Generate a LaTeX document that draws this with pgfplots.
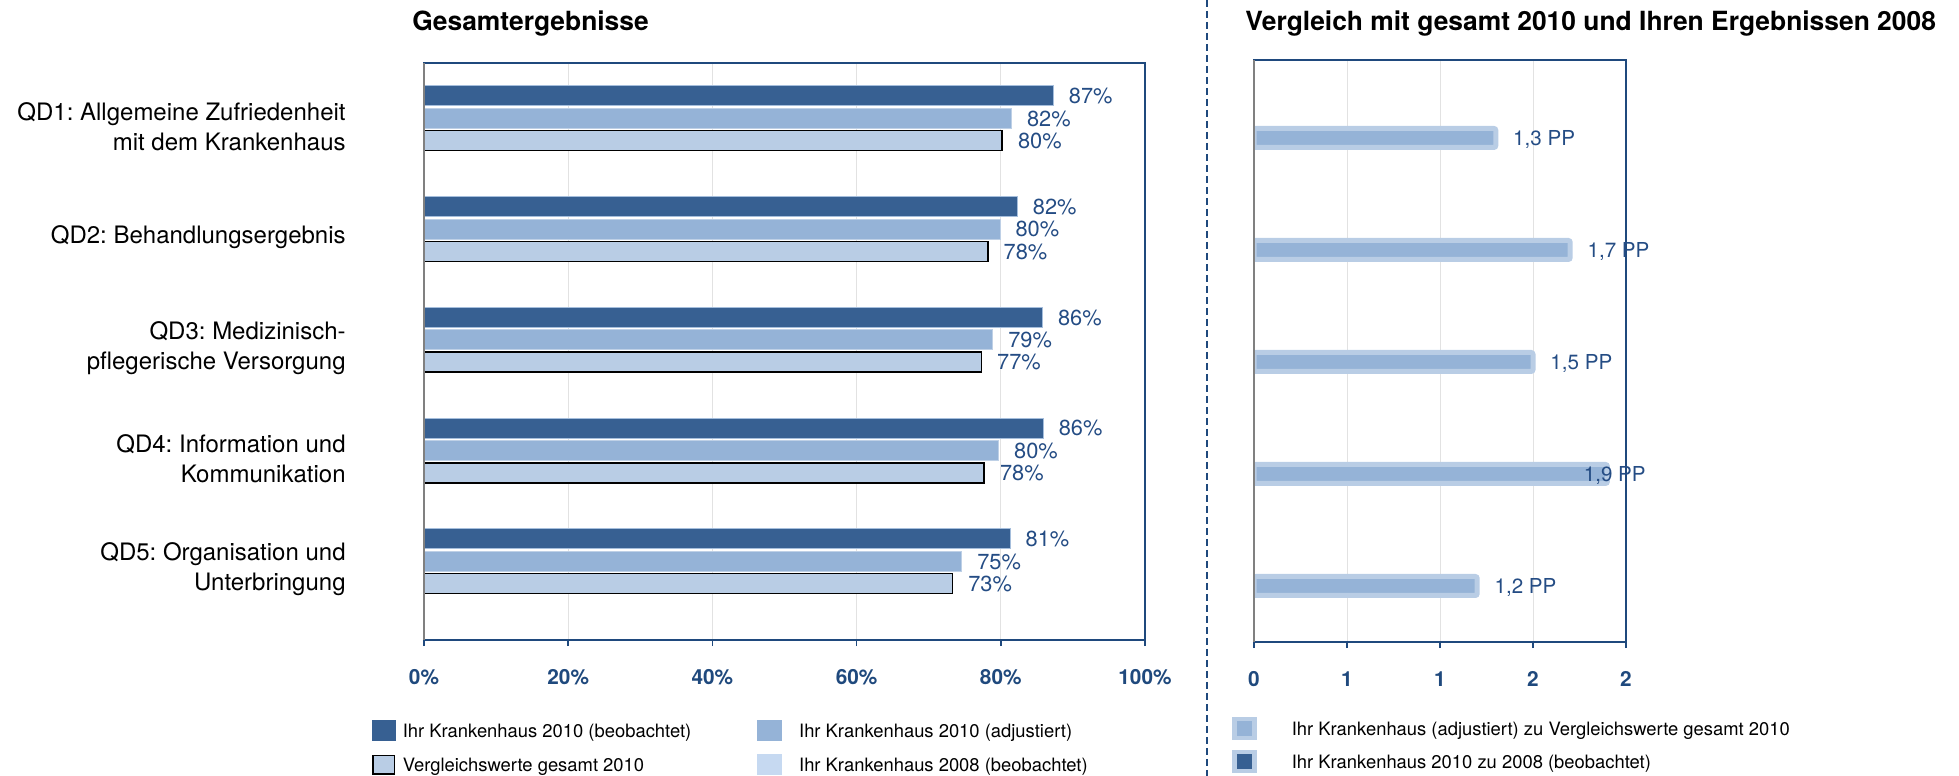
\documentclass[border=0pt]{standalone}
\usepackage{pgfplots}
\pgfplotsset{compat=1.18}
\usepackage{pgfplotstable}
\usepackage{fontspec}
\setmainfont{TeX Gyre Heros}
\frenchspacing
\definecolor{darkbar}{RGB}{55,96,146}
\definecolor{darkedge}{RGB}{165,190,220}
\definecolor{midbar}{RGB}{149,179,215}
\definecolor{midedge}{RGB}{190,208,230}
\definecolor{lightbar}{RGB}{185,205,229}
\definecolor{palebar}{RGB}{198,217,241}
\definecolor{axisblue}{RGB}{31,73,125}
\definecolor{labelblue}{RGB}{36,76,132}
\definecolor{gridgray}{RGB}{226,226,226}
\definecolor{spinegray}{RGB}{128,128,128}

\pgfplotstableread{
y dark dl mid ml light ll
4 87.3 87 81.5 82 80.2 80
3 82.3 82 79.9 80 78.2 78
2 85.8 86 78.9 79 77.3 77
1 85.9 86 79.7 80 77.7 78
0 81.3 81 74.6 75 73.3 73
}\lefttab

\pgfplotstableread{
y v lx lbl
4 1.3 1.3 1,3
3 1.7 1.7 1,7
2 1.5 1.5 1,5
1 1.9 1.68 1,9
0 1.2 1.2 1,2
}\righttab

\begin{document}
\begin{tikzpicture}
\path[use as bounding box] (0,0) rectangle (979.5pt,388pt);
\draw[axisblue, line width=1pt, dash pattern=on 3.5pt off 2pt] (603.5pt,388pt) -- (603.5pt,0pt);
\node[anchor=base west, font=\fontsize{13.2}{16}\selectfont\bfseries, inner sep=0pt] at (206pt,372.5pt) {Gesamtergebnisse};
\node[anchor=base west, font=\fontsize{13.2}{16}\selectfont\bfseries, inner sep=0pt] at (622.5pt,372.5pt) {Vergleich mit gesamt 2010 und Ihren Ergebnissen 2008};

% ---------------- left axis ----------------
\begin{axis}[
  at={(212pt,68pt)}, anchor=south west,
  scale only axis, width=360.5pt, height=288.5pt,
  xmin=0, xmax=100, ymin=-0.61, ymax=4.60,
  axis line style={axisblue, line width=1pt},
  xtick={0,20,40,60,80,100},
  xticklabels={0\%,20\%,40\%,60\%,80\%,100\%},
  xtick pos=lower, ytick pos=left,
  tick align=outside, major tick length=3pt,
  x tick style={axisblue, line width=0.8pt},
  y tick style={draw=none},
  ytick={0,1,2,3,4},
  yticklabels={{QD5: Organisation und\\Unterbringung},{QD4: Information und\\Kommunikation},{QD3: Medizinisch-\\pflegerische Versorgung},{QD2: Behandlungsergebnis},{QD1: Allgemeine Zufriedenheit\\mit dem Krankenhaus}},
  xmajorgrids, major grid style={gridgray, line width=0.5pt},
  xticklabel style={font=\fontsize{10.4}{12}\selectfont\bfseries, text=axisblue, inner sep=0pt, anchor=north, yshift=-11.5pt},
  yticklabel style={font=\fontsize{12}{15}\selectfont, align=right, inner sep=0pt, anchor=east, xshift=-36pt, yshift=1.5pt},
  every node near coord/.append style={anchor=west, inner sep=0pt, xshift=7.5pt, font=\fontsize{10.9}{12}\selectfont, text=labelblue, text depth=0pt},
  legend columns=2,
  legend cell align=left,
  legend style={at={(-0.0721,-0.1395)}, anchor=north west, draw=none, fill=none, inner sep=0pt, outer sep=0pt,
    font=\fontsize{9.2}{11}\selectfont, row sep=6.5pt, nodes={inner sep=0pt, text depth=0pt},
    /tikz/column 1/.style={column sep=3.5pt}, /tikz/column 2/.style={column sep=33pt}, /tikz/column 3/.style={column sep=8.5pt}},
  extra description/.code={\draw[spinegray, line width=1pt] (0,0) -- (0,1);},
]
\addplot[xbar, bar width=10pt, bar shift=16.725pt, fill=darkbar, draw=darkedge, line width=0.5pt, forget plot,
  point meta=explicit symbolic, nodes near coords={\pgfplotspointmeta\%},
  every node near coord/.append style={yshift=16.725pt}] table[x=dark, y=y, meta=dl] {\lefttab};
\addplot[xbar, bar width=10pt, bar shift=5.575pt, fill=midbar, draw=midedge, line width=0.5pt, forget plot,
  point meta=explicit symbolic, nodes near coords={\pgfplotspointmeta\%},
  every node near coord/.append style={yshift=5.575pt}] table[x=mid, y=y, meta=ml] {\lefttab};
\addplot[xbar, bar width=10pt, bar shift=-5.575pt, fill=lightbar, draw=black, line width=0.8pt, forget plot,
  point meta=explicit symbolic, nodes near coords={\pgfplotspointmeta\%},
  every node near coord/.append style={yshift=-5.575pt}] table[x=light, y=y, meta=ll] {\lefttab};
\addlegendimage{legend image code/.code={\fill[darkbar] (0pt,-5pt) rectangle (11.5pt,5pt);}}
\addlegendentry{Ihr Krankenhaus 2010 (beobachtet)}
\addlegendimage{legend image code/.code={\fill[midbar] (0pt,-5pt) rectangle (12pt,5pt);}}
\addlegendentry{Ihr Krankenhaus 2010 (adjustiert)}
\addlegendimage{legend image code/.code={\filldraw[fill=lightbar, draw=black, line width=0.9pt] (0.45pt,-4.55pt) rectangle (11.05pt,4.55pt);}}
\addlegendentry{Vergleichswerte gesamt 2010}
\addlegendimage{legend image code/.code={\fill[palebar] (0pt,-5pt) rectangle (12pt,5pt);}}
\addlegendentry{Ihr Krankenhaus 2008 (beobachtet)}
\end{axis}

% ---------------- right axis ----------------
\begin{axis}[
  at={(627pt,67pt)}, anchor=south west,
  scale only axis, width=186pt, height=291pt,
  xmin=0, xmax=2, ymin=-0.5, ymax=4.696,
  axis line style={axisblue, line width=1pt},
  xtick={0,0.5,1,1.5,2},
  xticklabels={0,1,1,2,2},
  xtick pos=lower, ytick=\empty,
  tick align=outside, major tick length=3pt,
  x tick style={axisblue, line width=0.8pt},
  xmajorgrids, major grid style={gridgray, line width=0.5pt},
  xticklabel style={font=\fontsize{10.4}{12}\selectfont\bfseries, text=axisblue, inner sep=0pt, anchor=north, yshift=-11.5pt},
  legend columns=1,
  legend cell align=left,
  legend style={at={(-0.0591,-0.1297)}, anchor=north west, draw=none, fill=none, inner sep=0pt, outer sep=0pt,
    font=\fontsize{9.2}{11}\selectfont, row sep=5pt, nodes={inner sep=0pt, text depth=0pt},
    /tikz/column 1/.style={column sep=17.5pt}},
  extra description/.code={\draw[spinegray, line width=1pt] (0,0) -- (0,1);},
]
\addplot[xbar, bar width=9.5pt, bar shift=0pt, fill=midbar, draw=lightbar, line width=2.5pt, rounded corners=1pt, forget plot]
  table[x=v, y=y] {\righttab};
\addlegendimage{legend image code/.code={\fill[lightbar] (0pt,-5.5pt) rectangle (12pt,5.5pt); \fill[midbar] (2.5pt,-3.5pt) rectangle (9.5pt,3.5pt);}}
\addlegendentry{Ihr Krankenhaus (adjustiert) zu Vergleichswerte gesamt 2010}
\addlegendimage{legend image code/.code={\fill[lightbar] (0pt,-5.5pt) rectangle (12pt,5.5pt); \fill[darkbar] (2.5pt,-3.5pt) rectangle (9.5pt,3.5pt);}}
\addlegendentry{Ihr Krankenhaus 2010 zu 2008 (beobachtet)}
\end{axis}

% overlay axis for the value labels of the right panel (not clipped)
\begin{axis}[
  at={(627pt,67pt)}, anchor=south west,
  scale only axis, width=186pt, height=291pt,
  xmin=0, xmax=2, ymin=-0.5, ymax=4.696,
  hide axis, clip=false,
]
\addplot[draw=none, mark=none, point meta=explicit symbolic,
  nodes near coords={\pgfplotspointmeta~PP},
  every node near coord/.append style={anchor=west, inner sep=0pt, xshift=8.5pt, font=\fontsize{10.3}{12}\selectfont, text=labelblue, text depth=0pt}]
  table[x=lx, y=y, meta=lbl] {\righttab};
\end{axis}
\end{tikzpicture}
\end{document}
